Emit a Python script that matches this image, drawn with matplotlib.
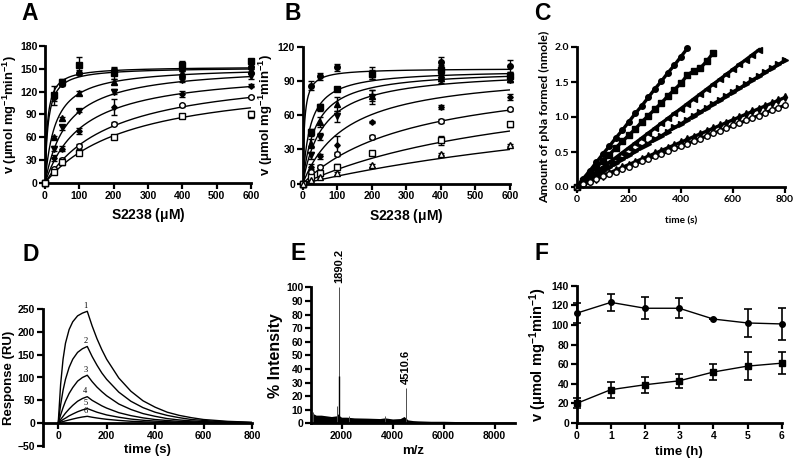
import numpy as np
import matplotlib
matplotlib.use('Agg')
import matplotlib.pyplot as plt

plt.rcParams['font.family'] = ['Liberation Sans', 'DejaVu Sans']
plt.rcParams['font.weight'] = 'bold'
plt.rcParams['axes.labelweight'] = 'bold'
plt.rcParams['mathtext.fontset'] = 'custom'
plt.rcParams['mathtext.rm'] = 'Liberation Sans:bold'
plt.rcParams['mathtext.bf'] = 'Liberation Sans:bold'
plt.rcParams['mathtext.it'] = 'Liberation Sans:bold'

# ---- A: kinetics, substrate S2238 ----
conc = [0, 25, 50, 100, 200, 400, 600]
a_vals = [[0, 115, 133, 155, 145, 155, 160],
          [0, 113, 130, 145, 148, 150, 152],
          [0, 60, 85, 118, 133, 145, 148],
          [0, 45, 73, 95, 120, 135, 140],
          [0, 33, 45, 68, 100, 117, 128],
          [0, 18, 30, 48, 78, 102, 113],
          [0, 14, 27, 40, 60, 88, 90]]
a_err = [[0, 12, 4, 10, 8, 5, 3],
         [0, 5, 3, 3, 3, 3, 2],
         [0, 2, 2, 3, 3, 2, 2],
         [0, 3, 3, 2, 3, 2, 3],
         [0, 4, 3, 4, 11, 4, 2],
         [0, 2, 3, 3, 2, 2, 1],
         [0, 2, 3, 3, 2, 2, 4]]
a_vmax = [153, 152, 153, 155, 150, 150, 140]
a_km = [7, 9, 30, 65, 110, 200, 250]

# ---- B ----
b_vals = [[0, 86, 94, 102, 97, 107, 103],
          [0, 45, 67, 83, 96, 100, 94],
          [0, 35, 54, 70, 77, 93, 92],
          [0, 25, 41, 59, 76, 91, 91],
          [0, 15, 24, 34, 54, 67, 76],
          [0, 10, 15, 26, 41, 55, 65],
          [0, 6, 9, 15, 27, 38, 52],
          [0, 3, 6, 9, 16, 26, 34]]
b_err = [[0, 4, 3, 3, 5, 4, 5],
         [0, 3, 3, 1, 4, 4, 4],
         [0, 4, 4, 6, 5, 3, 3],
         [0, 3, 3, 5, 6, 3, 2],
         [0, 2, 2, 8, 1, 2, 3],
         [0, 1, 1, 2, 2, 2, 1],
         [0, 1, 1, 2, 2, 4, 2],
         [0, 1, 1, 1, 1, 1, 1]]
b_vmax = [101, 100, 100, 100, 100, 100, 100, 100]
b_km = [5, 22, 38, 60, 130, 330, 700, 1400]

# ---- C: pNa formed vs time (every 25 s) ----
c_step = 25
c_series = [
    [0, .12, .23, .35, .47, .58, .70, .81, .93, 1.05, 1.16, 1.28, 1.40, 1.51, 1.63, 1.74, 1.86, 1.98],
    [0, .09, .19, .28, .37, .46, .56, .65, .74, .83, .93, 1.02, 1.11, 1.20, 1.30, 1.39, 1.48, 1.60,
     1.66, 1.70, 1.80, 1.92],
    [0, .07, .14, .21, .28, .35, .42, .49, .56, .63, .70, .77, .84, .91, .98, 1.05, 1.12, 1.19, 1.26,
     1.33, 1.40, 1.47, 1.54, 1.61, 1.68, 1.75, 1.82, 1.89, 1.96],
    [0, .06, .11, .17, .23, .28, .34, .40, .45, .51, .57, .62, .68, .73, .79, .85, .90, .96, 1.02,
     1.07, 1.13, 1.19, 1.24, 1.30, 1.36, 1.41, 1.47, 1.53, 1.58, 1.64, 1.70, 1.75, 1.81],
    [0, .04, .08, .12, .16, .20, .24, .28, .32, .36, .40, .44, .48, .52, .56, .60, .64, .68, .72,
     .76, .80, .84, .88, .92, .96, 1.00, 1.04, 1.08, 1.12, 1.16, 1.20, 1.24, 1.28],
    [0, .04, .07, .11, .15, .18, .22, .26, .29, .33, .37, .40, .44, .47, .51, .55, .58, .62, .66,
     .69, .73, .77, .80, .84, .88, .91, .95, .99, 1.02, 1.06, 1.10, 1.13, 1.17]]

# ---- D: SPR sensorgrams ----
d_time = [0, 10, 20, 30, 45, 60, 80, 100, 120, 140, 160, 180, 200, 250, 300, 350, 400, 450,
          500, 550, 600, 650, 700, 800]
d_resp = [[0, 85, 140, 175, 205, 222, 235, 241, 245, 213, 185, 161, 140, 99, 70, 49, 35, 24, 17, 12, 8, 6, 4, 2],
          [0, 40, 72, 96, 122, 140, 155, 163, 168, 146, 127, 110, 96, 68, 48, 34, 24, 17, 12, 8, 6, 4, 3, 1],
          [0, 18, 34, 48, 65, 78, 92, 100, 105, 91, 79, 69, 60, 42, 30, 21, 15, 10, 7, 5, 3.5, 2.5, 2, 1],
          [0, 8, 15, 22, 31, 39, 48, 54, 58, 50, 44, 38, 33, 23, 16.5, 11.6, 8, 5.8, 4, 3, 2, 1.5, 1, 0.5],
          [0, 4, 8, 11, 16, 20, 25, 29, 32, 28, 24, 21, 18, 13, 9, 6.4, 4.5, 3.2, 2.2, 1.6, 1.1, 0.8, 0.6, 0.3],
          [0, 2, 3.5, 5, 7, 9, 11.5, 13.5, 15, 13, 11.3, 9.8, 8.5, 6, 4.2, 3, 2.1, 1.5, 1, 0.7, 0.5, 0.4, 0.3, 0.1]]
d_labels = ['1', '2', '3', '4', '5', '6']

# ---- E: mass spectrum ----
e_mz = [850, 900, 950, 1000, 1200, 1400, 1600, 1800, 1850, 1950, 2000, 2200, 2500, 3000, 3500,
        3700, 4000, 4300, 4450, 4600, 4800, 5000, 5500, 6000, 6500, 7000, 7500, 8000, 8500, 8800]
e_noise = [6, 7, 6.5, 6, 6, 5.5, 5, 5.5, 7, 5, 4.5, 4.5, 4, 3.8, 3.5, 4, 3.2, 3.5, 5, 2.5, 2, 1.8,
           1.5, 1.5, 1.3, 1.2, 1, 1, 1, 0.9]
e_peak_mz = [880, 1800, 1890.2, 2280, 3700, 4510.6]
e_peak_int = [8.5, 13, 100, 5.5, 5.5, 26]
e_labels = ['1890.2', '4510.6']

# ---- F: stability over time ----
f_time = [0, 1, 2, 3, 4, 5, 6]
f_circ = [112, 123, 117, 117, 106, 102, 101]
f_circ_err = [10, 9, 11, 10, 0, 14, 16]
f_sq = [20, 34, 39, 43, 52, 58, 61]
f_sq_err = [5, 8, 8, 7, 8, 14, 11]

W, H = 796, 465
fig = plt.figure(figsize=(W / 100, H / 100), dpi=100)


def add_ax(l, t, r, b):
    return fig.add_axes([l / W, 1 - b / H, (r - l) / W, (b - t) / H])


def style(ax):
    for s in ['top', 'right']:
        ax.spines[s].set_visible(False)
    for s in ['left', 'bottom']:
        ax.spines[s].set_linewidth(2)
    ax.tick_params(direction='out', length=4, width=1.6, labelsize=7.5, pad=1.5)


vlabel = r'v ($\mu$mol mg$^{-1}$min$^{-1}$)'
slabel = r'S2238 ($\mu$M)'
s_fit = np.linspace(0, 600, 300)

# A
axA = add_ax(45, 46, 251, 183)
style(axA)
a_mk = ['s', 'o', '^', 'v', 'D', 'o', 's']
a_fill = [1, 1, 1, 1, 1, 0, 0]
a_ms = [4, 4, 4, 4, 2.8, 4, 4]
for v, e, vm, km, mk, f, ms in zip(a_vals, a_err, a_vmax, a_km, a_mk, a_fill, a_ms):
    axA.plot(s_fit, vm * s_fit / (km + s_fit), 'k-', lw=1)
    axA.errorbar(conc, v, yerr=e, fmt=mk, ms=ms, mfc='black' if f else 'white', mec='black',
                 mew=1, ecolor='black', elinewidth=1, capsize=2, capthick=1, clip_on=False, zorder=3)
axA.set_xlim(0, 600)
axA.set_ylim(0, 180)
axA.set_xticks(range(0, 601, 100))
axA.set_yticks(range(0, 181, 30))
axA.set_xlabel(slabel, fontsize=10, labelpad=4)
axA.set_ylabel(vlabel, fontsize=9.3, labelpad=0.5)

# B
axB = add_ax(302.7, 46.7, 510, 183.7)
style(axB)
b_mk = ['o', 's', '^', 'v', 'D', 'o', 's', '^']
b_fill = [1, 1, 1, 1, 1, 0, 0, 0]
b_ms = [4, 4, 4, 4, 2.8, 4, 4, 4]
for v, e, vm, km, mk, f, ms in zip(b_vals, b_err, b_vmax, b_km, b_mk, b_fill, b_ms):
    axB.plot(s_fit, vm * s_fit / (km + s_fit), 'k-', lw=1)
    axB.errorbar(conc, v, yerr=e, fmt=mk, ms=ms, mfc='black' if f else 'white', mec='black',
                 mew=1, ecolor='black', elinewidth=1, capsize=2, capthick=1, clip_on=False, zorder=3)
axB.set_xlim(0, 600)
axB.set_ylim(0, 120)
axB.set_xticks(range(0, 601, 100))
axB.set_yticks(range(0, 121, 30))
axB.set_xlabel(slabel, fontsize=10, labelpad=4)
axB.set_ylabel(vlabel, fontsize=9.5, labelpad=2)

# C
cfont = ['Lato', 'DejaVu Sans']
axC = add_ax(576.7, 47, 785, 187)
style(axC)
c_mk = ['o', 's', '<', '>', 'd', 'o']
c_fill = [1, 1, 1, 1, 1, 0]
for ys, mk, f in zip(c_series, c_mk, c_fill):
    t = np.arange(len(ys)) * c_step
    axC.plot(t, ys, '-', color='black', lw=2.4, marker=mk, ms=4,
             mfc='black' if f else 'white', mec='black', mew=1, clip_on=False)
axC.set_xlim(0, 800)
axC.set_ylim(0, 2.0)
axC.set_xticks(range(0, 801, 200))
axC.set_yticks([0, 0.5, 1.0, 1.5, 2.0])
axC.set_yticklabels(['0.0', '0.5', '1.0', '1.5', '2.0'])
for lab in axC.get_xticklabels() + axC.get_yticklabels():
    lab.set_fontfamily(cfont)
    lab.set_fontsize(7.5)
axC.set_xlabel('time (s)', fontsize=7.2, family=cfont, labelpad=9)
axC.set_ylabel('Amount of pNa formed (nmole)', fontsize=8.9, family=cfont, labelpad=3)

# D
axD = add_ax(42.7, 309, 252, 446)
style(axD)
axD.spines['bottom'].set_position(('data', 0))
for resp, lab in zip(d_resp, d_labels):
    axD.plot(d_time, resp, 'k-', lw=1)
    axD.text(112, max(resp) + 3, lab, fontsize=6, family='Liberation Serif', fontweight='normal',
             ha='center', va='bottom')
axD.set_xlim(-64, 800)
axD.set_ylim(-50, 250)
axD.set_xticks(range(0, 801, 200))
axD.set_yticks(range(-50, 251, 50))
axD.set_xlabel('time (s)', fontsize=9.5, labelpad=2)
axD.set_ylabel('Response (RU)', fontsize=9.5, labelpad=2)

# E
axE = add_ax(311, 287.3, 515, 423.3)
style(axE)
axE.fill_between(e_mz, 0, e_noise, color='black', lw=0)
axE.vlines(e_peak_mz, 0, e_peak_int, color='0.3', lw=0.7)
axE.vlines(e_peak_mz[2], 0, 35, color='black', lw=1.0)
for mz, inten, lab in zip([e_peak_mz[2], e_peak_mz[5]], [e_peak_int[2], e_peak_int[5]], e_labels):
    axE.text(mz, inten + 3, lab, rotation=90, ha='center', va='bottom', fontsize=8, clip_on=False)
axE.set_xlim(800, 8800)
axE.set_ylim(0, 100)
axE.set_xticks(range(2000, 8001, 2000))
axE.set_yticks(range(0, 101, 10))
axE.set_xlabel('m/z', fontsize=9.5, labelpad=3)
axE.set_ylabel('% Intensity', fontsize=11.5, labelpad=2)

# F
axF = add_ax(576.7, 285.7, 781.7, 423)
style(axF)
axF.errorbar(f_time, f_circ, yerr=f_circ_err, fmt='-o', color='black', ms=4, lw=1,
             elinewidth=1.2, capsize=3, capthick=1.2, clip_on=False)
axF.errorbar(f_time, f_sq, yerr=f_sq_err, fmt='-s', color='black', ms=4, lw=1,
             elinewidth=1.2, capsize=3, capthick=1.2, clip_on=False)
axF.set_xlim(0, 6)
axF.set_ylim(0, 140)
axF.set_xticks(range(0, 7))
axF.set_yticks(range(0, 141, 20))
axF.set_xlabel('time (h)', fontsize=9.5, labelpad=4)
axF.set_ylabel(vlabel, fontsize=10.5, labelpad=2)

# panel letters
for x, y, s in [(21, 13, 'A'), (284, 13, 'B'), (534, 13, 'C'),
                (22, 254, 'D'), (291, 253, 'E'), (534, 253, 'F')]:
    fig.text(x / W, 1 - y / H, s, fontsize=16.5, fontweight='bold', va='center', ha='left')

fig.savefig('out.png', dpi=100)
